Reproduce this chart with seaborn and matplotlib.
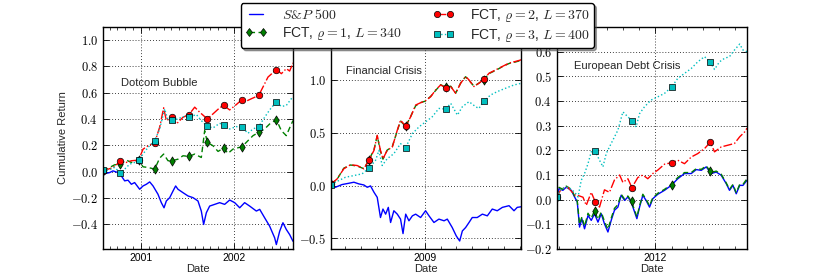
import numpy as np
import pandas as pd
import matplotlib
matplotlib.use("Agg")
import matplotlib.pyplot as plt
import matplotlib.dates as mdates
from matplotlib.ticker import FuncFormatter, MultipleLocator
from matplotlib.lines import Line2D
from matplotlib.mathtext import MathTextParser
import seaborn as sns

# ---------------- data (decimal years, cumulative returns) ----------------
# Panel 1: Dotcom Bubble
SP1_T = [2000.595, 2000.667, 2000.703, 2000.756, 2000.792, 2000.828, 2000.864, 2000.900, 2000.935, 2000.989,
         2001.025, 2001.061, 2001.097, 2001.133, 2001.186, 2001.222, 2001.251, 2001.276, 2001.312, 2001.348,
         2001.376, 2001.401, 2001.455, 2001.509, 2001.563, 2001.616, 2001.652, 2001.677, 2001.706, 2001.742,
         2001.796, 2001.849, 2001.903, 2001.957, 2002.011, 2002.065, 2002.118, 2002.172, 2002.244, 2002.280,
         2002.333, 2002.387, 2002.441, 2002.459, 2002.495, 2002.530, 2002.566, 2002.602, 2002.638]
SP1_V = [-0.020, -0.008, 0.005, -0.008, -0.033, -0.071, -0.066, -0.097, -0.084, -0.135,
         -0.110, -0.097, -0.079, -0.110, -0.173, -0.237, -0.276, -0.224, -0.199, -0.148,
         -0.110, -0.135, -0.161, -0.186, -0.199, -0.224, -0.301, -0.403, -0.314, -0.263,
         -0.250, -0.237, -0.250, -0.217, -0.237, -0.276, -0.237, -0.263, -0.301, -0.288,
         -0.352, -0.416, -0.505, -0.556, -0.454, -0.390, -0.441, -0.480, -0.531]

G1_T = [2000.595, 2000.667, 2000.720, 2000.781, 2000.846, 2000.900, 2000.978, 2001.025, 2001.079, 2001.151,
        2001.204, 2001.247, 2001.294, 2001.337, 2001.401, 2001.455, 2001.520, 2001.581, 2001.652, 2001.688,
        2001.717, 2001.778, 2001.832, 2001.892, 2001.939, 2001.993, 2002.090, 2002.154, 2002.208, 2002.269,
        2002.333, 2002.387, 2002.459, 2002.513, 2002.566, 2002.602, 2002.638]
G1_V = [0.005, 0.031, 0.051, 0.056, 0.087, 0.069, 0.087, 0.036, 0.031, 0.018,
        0.102, 0.133, 0.082, 0.082, 0.094, 0.120, 0.115, 0.133, 0.107, 0.311,
        0.222, 0.196, 0.153, 0.179, 0.138, 0.171, 0.189, 0.235, 0.273, 0.298,
        0.324, 0.362, 0.395, 0.311, 0.273, 0.332, 0.388]

R1_T = [2000.595, 2000.703, 2000.781, 2000.846, 2000.900, 2000.978, 2001.025, 2001.079, 2001.151, 2001.204,
        2001.247, 2001.276, 2001.337, 2001.384, 2001.455, 2001.520, 2001.581, 2001.634, 2001.717, 2001.778,
        2001.849, 2001.892, 2001.957, 2002.029, 2002.090, 2002.136, 2002.190, 2002.269, 2002.315, 2002.369,
        2002.459, 2002.513, 2002.566, 2002.602, 2002.638]
R1_V = [0.005, 0.030, 0.077, 0.069, 0.082, 0.087, 0.170, 0.196, 0.220, 0.337,
        0.485, 0.388, 0.413, 0.362, 0.413, 0.434, 0.490, 0.452, 0.400, 0.439,
        0.485, 0.503, 0.469, 0.510, 0.548, 0.536, 0.554, 0.579, 0.643, 0.719,
        0.776, 0.745, 0.783, 0.765, 0.827]

C1_T = [2000.595, 2000.667, 2000.720, 2000.781, 2000.828, 2000.882, 2000.935, 2000.978, 2001.025, 2001.079,
        2001.151, 2001.204, 2001.258, 2001.294, 2001.337, 2001.401, 2001.455, 2001.520, 2001.599, 2001.652,
        2001.717, 2001.778, 2001.849, 2001.892, 2001.957, 2002.029, 2002.090, 2002.154, 2002.208, 2002.269,
        2002.333, 2002.387, 2002.459, 2002.513, 2002.566, 2002.638]
C1_V = [0.005, 0.013, 0.031, -0.008, 0.018, 0.056, 0.069, 0.087, 0.133, 0.184,
        0.235, 0.324, 0.477, 0.388, 0.395, 0.400, 0.418, 0.413, 0.434, 0.388,
        0.344, 0.332, 0.367, 0.357, 0.324, 0.342, 0.337, 0.291, 0.324, 0.342,
        0.413, 0.469, 0.531, 0.495, 0.503, 0.571]

M1_T = [2000.600, 2000.781, 2000.978, 2001.151, 2001.337, 2001.520, 2001.717, 2001.892, 2002.090, 2002.269, 2002.459]
G1_M = [0.005, 0.056, 0.087, 0.018, 0.082, 0.115, 0.222, 0.179, 0.189, 0.298, 0.395]
R1_M = [0.005, 0.077, 0.087, 0.220, 0.413, 0.434, 0.400, 0.503, 0.548, 0.579, 0.776]
C1_M = [0.010, -0.008, 0.087, 0.235, 0.395, 0.413, 0.344, 0.357, 0.337, 0.342, 0.531]

# Panel 2: Financial Crisis
SP2_T = [2008.509, 2008.531, 2008.566, 2008.601, 2008.628, 2008.654, 2008.680, 2008.698, 2008.715, 2008.733,
         2008.750, 2008.767, 2008.780, 2008.794, 2008.808, 2008.820, 2008.837, 2008.855, 2008.872, 2008.885,
         2008.899, 2008.916, 2008.934, 2008.951, 2008.977, 2009.003, 2009.021, 2009.047, 2009.073, 2009.100,
         2009.117, 2009.143, 2009.164, 2009.182, 2009.196, 2009.213, 2009.231, 2009.248, 2009.274, 2009.301,
         2009.327, 2009.353, 2009.379, 2009.406, 2009.441, 2009.467, 2009.484, 2009.505]
SP2_V = [0.000, -0.016, 0.010, 0.022, 0.032, 0.016, 0.006, -0.016, -0.003, -0.063,
         -0.111, -0.302, -0.222, -0.270, -0.206, -0.349, -0.238, -0.270, -0.317, -0.454,
         -0.270, -0.333, -0.286, -0.270, -0.302, -0.238, -0.286, -0.349, -0.317, -0.333,
         -0.317, -0.397, -0.476, -0.524, -0.429, -0.397, -0.349, -0.302, -0.302, -0.270,
         -0.286, -0.222, -0.238, -0.206, -0.190, -0.238, -0.206, -0.200]

RG2_T = [2008.509, 2008.540, 2008.575, 2008.610, 2008.645, 2008.680, 2008.706, 2008.733, 2008.750, 2008.767,
         2008.780, 2008.802, 2008.829, 2008.855, 2008.872, 2008.899, 2008.925, 2008.951, 2008.977, 2009.003,
         2009.030, 2009.056, 2009.082, 2009.108, 2009.135, 2009.161, 2009.187, 2009.213, 2009.231, 2009.257,
         2009.283, 2009.309, 2009.336, 2009.371, 2009.406, 2009.441, 2009.476, 2009.505]
G2_V = [0.015, 0.060, 0.165, 0.195, 0.185, 0.160, 0.240, 0.340, 0.470, 0.325,
        0.250, 0.335, 0.370, 0.520, 0.610, 0.560, 0.655, 0.755, 0.785, 0.800,
        0.845, 0.900, 0.955, 0.930, 0.940, 0.875, 0.970, 1.030, 0.995, 0.940,
        0.970, 1.000, 1.060, 1.090, 1.125, 1.155, 1.170, 1.185]
R2_V = [0.016, 0.063, 0.159, 0.197, 0.190, 0.159, 0.238, 0.333, 0.476, 0.333,
        0.254, 0.333, 0.365, 0.524, 0.619, 0.562, 0.651, 0.762, 0.784, 0.803,
        0.841, 0.905, 0.952, 0.927, 0.937, 0.873, 0.968, 1.032, 1.000, 0.937,
        0.968, 1.006, 1.063, 1.095, 1.127, 1.159, 1.175, 1.190]

C2_T = [2008.509, 2008.549, 2008.584, 2008.628, 2008.671, 2008.706, 2008.741, 2008.759, 2008.776, 2008.802,
        2008.837, 2008.872, 2008.899, 2008.934, 2008.969, 2009.003, 2009.038, 2009.073, 2009.108, 2009.135,
        2009.170, 2009.196, 2009.231, 2009.266, 2009.283, 2009.309, 2009.344, 2009.379, 2009.423, 2009.467,
        2009.505]
C2_V = [0.010, 0.048, 0.079, 0.095, 0.111, 0.165, 0.238, 0.333, 0.190, 0.254,
        0.302, 0.397, 0.359, 0.492, 0.556, 0.603, 0.651, 0.730, 0.724, 0.778,
        0.667, 0.746, 0.794, 0.746, 0.730, 0.800, 0.857, 0.889, 0.921, 0.952,
        0.968]

M2_T = [2008.509, 2008.706, 2008.899, 2009.108, 2009.309]
G2_M = [0.015, 0.240, 0.560, 0.930, 1.000]
R2_M = [0.016, 0.238, 0.562, 0.927, 1.006]
C2_M = [0.010, 0.165, 0.359, 0.724, 0.800]

# Panel 3: European Debt Crisis
SG3_T = [2011.486, 2011.497, 2011.517, 2011.535, 2011.561, 2011.578, 2011.592, 2011.604, 2011.616, 2011.630,
         2011.648, 2011.665, 2011.682, 2011.700, 2011.717, 2011.734, 2011.752, 2011.769, 2011.786, 2011.804,
         2011.821, 2011.839, 2011.856, 2011.873, 2011.891, 2011.903, 2011.917, 2011.934, 2011.951, 2011.969,
         2011.986, 2012.012, 2012.047, 2012.082, 2012.116, 2012.151, 2012.186, 2012.212, 2012.238, 2012.264,
         2012.290, 2012.316, 2012.342, 2012.368, 2012.385, 2012.403, 2012.420, 2012.438, 2012.455, 2012.476]
SP3_V = [0.011, 0.045, 0.038, 0.051, 0.038, 0.011, -0.009, -0.111, -0.077, -0.118,
         -0.064, -0.084, -0.057, -0.091, -0.057, -0.098, -0.131, -0.084, -0.043, -0.030,
         0.018, -0.003, 0.011, -0.009, -0.050, -0.077, -0.030, 0.018, -0.003, -0.030,
         0.004, 0.022, 0.038, 0.058, 0.085, 0.106, 0.106, 0.122, 0.119, 0.133,
         0.106, 0.112, 0.099, 0.065, 0.038, 0.058, 0.024, 0.058, 0.058, 0.079]
G3_V = [0.012, 0.050, 0.042, 0.055, 0.042, 0.015, -0.005, -0.100, -0.070, -0.108,
        -0.055, -0.075, -0.045, -0.080, -0.050, -0.088, -0.120, -0.075, -0.035, -0.020,
        0.022, 0.002, 0.015, -0.005, -0.042, -0.070, -0.025, 0.022, 0.002, -0.025,
        0.008, 0.026, 0.042, 0.062, 0.090, 0.110, 0.110, 0.126, 0.123, 0.137,
        0.110, 0.116, 0.103, 0.068, 0.042, 0.062, 0.028, 0.062, 0.062, 0.085]

R3_T = [2011.486, 2011.509, 2011.543, 2011.578, 2011.604, 2011.622, 2011.639, 2011.665, 2011.686, 2011.708,
        2011.734, 2011.760, 2011.786, 2011.813, 2011.830, 2011.856, 2011.877, 2011.908, 2011.934, 2011.960,
        2011.986, 2012.012, 2012.047, 2012.085, 2012.116, 2012.151, 2012.186, 2012.220, 2012.255, 2012.285,
        2012.307, 2012.342, 2012.377, 2012.411, 2012.438, 2012.464, 2012.476]
R3_V = [0.011, 0.045, 0.050, 0.020, 0.015, 0.010, -0.023, 0.030, -0.009, -0.030,
        0.040, 0.030, 0.080, 0.100, 0.070, 0.085, 0.049, 0.090, 0.100, 0.085,
        0.106, 0.120, 0.144, 0.150, 0.160, 0.146, 0.173, 0.187, 0.207, 0.233,
        0.194, 0.214, 0.221, 0.228, 0.255, 0.275, 0.290]

C3_T = [2011.486, 2011.509, 2011.543, 2011.578, 2011.596, 2011.613, 2011.630, 2011.648, 2011.665, 2011.686,
        2011.708, 2011.726, 2011.743, 2011.769, 2011.804, 2011.830, 2011.856, 2011.877, 2011.899, 2011.917,
        2011.943, 2011.977, 2012.012, 2012.047, 2012.085, 2012.116, 2012.151, 2012.186, 2012.220, 2012.255,
        2012.285, 2012.307, 2012.333, 2012.359, 2012.385, 2012.411, 2012.438, 2012.455, 2012.476]
C3_V = [0.011, 0.045, 0.051, 0.031, 0.011, 0.079, 0.106, 0.146, 0.194, 0.196,
        0.160, 0.133, 0.187, 0.228, 0.282, 0.356, 0.336, 0.320, 0.295, 0.349,
        0.377, 0.404, 0.417, 0.431, 0.458, 0.492, 0.512, 0.532, 0.559, 0.580,
        0.557, 0.528, 0.559, 0.573, 0.580, 0.607, 0.631, 0.607, 0.600]

M3_T = [2011.486, 2011.686, 2011.877, 2012.085, 2012.285]
G3_M = [0.012, -0.045, -0.005, 0.060, 0.115]
R3_M = [0.011, -0.009, 0.049, 0.150, 0.233]
C3_M = [0.011, 0.196, 0.320, 0.458, 0.557]

TITLES = ["Dotcom Bubble", "Financial Crisis", "European Debt Crisis"]
LABELS = [r"$S&P\ 500$", r"FCT, $\varrho=1$, $L=340$",
          r"FCT, $\varrho=2$, $L=370$", r"FCT, $\varrho=3$, $L=400$"]


def to_dates(dec_years):
    out = []
    for d in dec_years:
        y = int(np.floor(d))
        start = pd.Timestamp(year=y, month=1, day=1)
        end = pd.Timestamp(year=y + 1, month=1, day=1)
        out.append(start + (d - y) * (end - start))
    return pd.to_datetime(out)


panels = [
    dict(sp=(SP1_T, SP1_V), g=(G1_T, G1_V), r=(R1_T, R1_V), c=(C1_T, C1_V),
         mt=M1_T, gm=G1_M, rm=R1_M, cm=C1_M, xlim=(2000.595, 2002.638), ylim=(-0.59, 1.1), ystep=0.2,
         ylabmax=1.0, txt=(0.093, 0.75)),
    dict(sp=(SP2_T, SP2_V), g=(RG2_T, G2_V), r=(RG2_T, R2_V), c=(C2_T, C2_V),
         mt=M2_T, gm=G2_M, rm=R2_M, cm=C2_M, xlim=(2008.509, 2009.505), ylim=(-0.6, 1.5), ystep=0.5,
         ylabmax=1.0, txt=(0.077, 0.80)),
    dict(sp=(SG3_T, SP3_V), g=(SG3_T, G3_V), r=(R3_T, R3_V), c=(C3_T, C3_V),
         mt=M3_T, gm=G3_M, rm=R3_M, cm=C3_M, xlim=(2011.486, 2012.476), ylim=(-0.2, 0.7), ystep=0.1,
         ylabmax=0.6, txt=(0.09, 0.826)),
]

# ---------------- style ----------------
sns.set_style("white")
plt.rcParams["font.family"] = ["Liberation Sans", "DejaVu Sans"]
plt.rcParams.update({
    "mathtext.fontset": "cm",
    "axes.edgecolor": "black",
    "axes.linewidth": 1.0,
    "xtick.direction": "in", "ytick.direction": "in",
    "xtick.top": True, "ytick.right": True,
    "xtick.bottom": True, "ytick.left": True,
    "xtick.major.size": 4, "ytick.major.size": 4,
    "xtick.minor.size": 2, "ytick.minor.size": 2,
    "xtick.major.width": 0.6, "ytick.major.width": 0.6,
    "xtick.minor.width": 0.5,
    "xtick.color": "black", "ytick.color": "black",
    "xtick.labelsize": 7.5, "ytick.labelsize": 9,
    "axes.labelsize": 8,
})

# make sure the S&P legend label parses in mathtext
try:
    MathTextParser("agg").parse(LABELS[0], dpi=100)
except Exception:
    LABELS[0] = r"$S$&$P\ 500$"

BLUE, GREEN, RED, CYAN = "#0000ff", "#008000", "#ff0000", "#00bfbf"

fig = plt.figure(figsize=(8.3, 2.77), dpi=100)
lefts = [0.124, 0.399, 0.671]


def make_fmt(vmax):
    # labels hidden under the legend (above vmax) are left blank
    def f(v, p):
        if v > vmax + 1e-9:
            return ""
        return "$%.1f$" % (0.0 if abs(v) < 1e-9 else v)
    return FuncFormatter(f)


for i, P in enumerate(panels):
    ax = fig.add_axes([lefts[i], 0.101, 0.229, 0.8014])
    ax.grid(True, which="major", color="black", linestyle=(0, (1, 2.5)), linewidth=0.6)
    ax.set_axisbelow(True)

    sns.lineplot(x=to_dates(P["sp"][0]), y=P["sp"][1], ax=ax, color=BLUE, linewidth=1.0,
                 estimator=None, sort=False, zorder=2.0)
    sns.lineplot(x=to_dates(P["g"][0]), y=P["g"][1], ax=ax, color=GREEN, linewidth=1.0,
                 linestyle=(0, (4, 2.5)), estimator=None, sort=False, zorder=2.1)
    sns.scatterplot(x=to_dates(P["mt"]), y=P["gm"], ax=ax, marker="d", s=22, color=GREEN,
                    edgecolor="black", linewidth=0.5, zorder=2.15)
    sns.lineplot(x=to_dates(P["r"][0]), y=P["r"][1], ax=ax, color=RED, linewidth=1.0,
                 linestyle="-.", estimator=None, sort=False, zorder=2.2)
    sns.scatterplot(x=to_dates(P["mt"]), y=P["rm"], ax=ax, marker="o", s=22, color=RED,
                    edgecolor="black", linewidth=0.5, zorder=2.25)
    sns.lineplot(x=to_dates(P["c"][0]), y=P["c"][1], ax=ax, color=CYAN, linewidth=1.0,
                 linestyle=":", estimator=None, sort=False, zorder=2.3)
    sns.scatterplot(x=to_dates(P["mt"]), y=P["cm"], ax=ax, marker="s", s=20, color=CYAN,
                    edgecolor="black", linewidth=0.5, zorder=2.35)

    x0, x1 = to_dates(P["xlim"])
    ax.set_xlim(x0, x1)
    ax.set_ylim(*P["ylim"])
    ax.xaxis.set_major_locator(mdates.YearLocator())
    ax.xaxis.set_major_formatter(mdates.DateFormatter("%Y"))
    ax.xaxis.set_minor_locator(mdates.MonthLocator())
    ax.yaxis.set_major_locator(MultipleLocator(P["ystep"]))
    ax.yaxis.set_major_formatter(make_fmt(P["ylabmax"]))
    ax.tick_params(which="both", direction="in", top=True, right=True)
    ax.tick_params(axis="y", which="minor", left=False, right=False)
    ax.tick_params(axis="x", which="major", pad=3)
    ax.set_xlabel("Date", fontsize=8, labelpad=0.5)
    ax.set_ylabel("Cumulative Return" if i == 0 else "", fontsize=8, labelpad=2)
    ax.text(P["txt"][0], P["txt"][1], TITLES[i], transform=ax.transAxes,
            fontsize=8, va="center", ha="left")
    for s in ax.spines.values():
        s.set_visible(True)
        s.set_color("black")
        s.set_linewidth(1.0)

handles = [
    Line2D([], [], color=BLUE, linewidth=1.0),
    Line2D([], [], color=GREEN, linewidth=1.0, linestyle=(0, (4, 2.5)), marker="d",
           markersize=4.5, markerfacecolor=GREEN, markeredgecolor="black", markeredgewidth=0.5),
    Line2D([], [], color=RED, linewidth=1.0, linestyle="-.", marker="o",
           markersize=4.5, markerfacecolor=RED, markeredgecolor="black", markeredgewidth=0.5),
    Line2D([], [], color=CYAN, linewidth=1.0, linestyle=":", marker="s",
           markersize=4.5, markerfacecolor=CYAN, markeredgecolor="black", markeredgewidth=0.5),
]
leg = fig.legend(handles, LABELS, loc="upper center", bbox_to_anchor=(0.5025, 0.99), ncol=2,
                 fontsize=10, frameon=True, fancybox=True, shadow=True, framealpha=1.0,
                 numpoints=2, handlelength=1.6, columnspacing=2.2, borderpad=0.3,
                 labelspacing=0.2, handletextpad=1.1, borderaxespad=0.0)
leg.get_frame().set_edgecolor("black")
leg.get_frame().set_linewidth(1.0)
leg.set_zorder(10)

fig.savefig("out.png", dpi=100)
